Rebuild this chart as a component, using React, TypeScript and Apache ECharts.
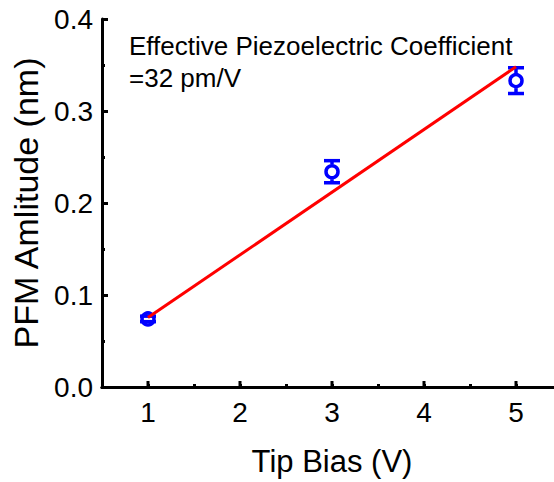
import React, { useEffect, useRef } from "react";
import * as echarts from "echarts";

const biasV = [1, 3, 5];
const amplitude = [0.074, 0.234, 0.333];
const amplitudeErr = [0.003, 0.012, 0.014];
const fitX = [1, 5];
const fitY = [0.0755, 0.348];
const xMajorTicks = [1, 2, 3, 4, 5];
const yTicks = ["0.0", "0.1", "0.2", "0.3", "0.4"];
const annotationLines = ["Effective Piezoelectric Coefficient", "=32 pm/V"];

const FONT = "'Liberation Sans', Arial, Helvetica, sans-serif";

export default function App() {
  const ref = useRef<HTMLDivElement>(null);
  useEffect(() => {
    if (!ref.current) return;
    const chart = echarts.init(ref.current, undefined, { renderer: "svg" });
    const points = biasV.map((x, i) => [x, amplitude[i], amplitudeErr[i]]);
    const fit = fitX.map((x, i) => [x, fitY[i]]);
    const axisLine = { show: true, lineStyle: { color: "#000", width: 3 } };
    chart.setOption({
      animation: false,
      grid: { left: 102, top: 19, bottom: 94, right: 0, containLabel: false },
      xAxis: [
        {
          type: "value",
          min: 0.5,
          max: 5.5,
          interval: 0.5,
          axisLine,
          axisTick: { show: true, inside: true, length: 3, lineStyle: { width: 3, color: "#000" } },
          minorTick: { show: false },
          splitLine: { show: false },
          axisLabel: {
            show: true,
            margin: 11,
            fontFamily: FONT,
            fontSize: 28,
            color: "#000",
            showMinLabel: false,
            showMaxLabel: false,
            formatter: (v: number) => (Math.abs(v - Math.round(v)) < 1e-6 ? String(Math.round(v)) : ""),
          },
          name: "Tip Bias (V)",
          nameLocation: "middle",
          nameGap: 59,
          nameTextStyle: { fontFamily: FONT, fontSize: 31, color: "#000" },
        },
        {
          type: "value",
          position: "top",
          min: 0.5,
          max: 5.5,
          axisLine,
          axisTick: { show: false },
          axisLabel: { show: false },
          splitLine: { show: false },
        },
      ],
      yAxis: [
        {
          type: "value",
          min: 0,
          max: 0.4,
          interval: 0.1,
          axisLine,
          axisTick: { show: true, inside: true, length: 6, lineStyle: { width: 3, color: "#000" } },
          minorTick: { show: true, splitNumber: 2, length: 3, lineStyle: { width: 3, color: "#000" } },
          splitLine: { show: false },
          axisLabel: {
            margin: 9,
            fontFamily: FONT,
            fontSize: 28,
            color: "#000",
            formatter: (v: number) => yTicks[Math.round(v * 10)] ?? "",
          },
          name: "PFM Amlitude (nm)",
          nameLocation: "middle",
          nameGap: 57,
          nameTextStyle: { fontFamily: FONT, fontSize: 34, color: "#000" },
        },
        {
          type: "value",
          position: "right",
          min: 0,
          max: 0.4,
          axisLine,
          axisTick: { show: false },
          axisLabel: { show: false },
          splitLine: { show: false },
        },
      ],
      graphic: [
        {
          type: "text",
          left: 129,
          top: 33,
          style: { text: annotationLines[0], font: `26px ${FONT}`, fill: "#000" },
        },
        {
          type: "text",
          left: 129,
          top: 65,
          style: { text: annotationLines[1], font: `26px ${FONT}`, fill: "#000" },
        },
      ],
      series: [
        {
          type: "custom",
          data: xMajorTicks.map((v) => [v, 0]),
          z: 5,
          silent: true,
          renderItem: (params: any, api: any) => {
            const p = api.coord([api.value(0), api.value(1)]);
            return {
              type: "line",
              shape: { x1: p[0], y1: p[1], x2: p[0], y2: p[1] - 6 },
              style: { stroke: "#000", lineWidth: 3 },
            };
          },
        },
        {
          type: "scatter",
          data: points.map((p) => [p[0], p[1]]),
          symbol: "circle",
          symbolSize: 12,
          itemStyle: { color: "#fff", borderColor: "#0000ff", borderWidth: 3.5, opacity: 1 },
          z: 2,
        },
        {
          type: "custom",
          data: points,
          z: 3,
          renderItem: (params: any, api: any) => {
            const x = api.value(0);
            const y = api.value(1);
            const e = api.value(2);
            const c = api.coord([x, y]);
            const t = api.coord([x, y + e]);
            const b = api.coord([x, y - e]);
            const hw = 8;
            const r = 7.5;
            const style = { stroke: "#0000ff", lineWidth: 3.5 };
            const children: any[] = [
              { type: "line", shape: { x1: c[0] - hw, y1: t[1], x2: c[0] + hw, y2: t[1] }, style },
              { type: "line", shape: { x1: c[0] - hw, y1: b[1], x2: c[0] + hw, y2: b[1] }, style },
            ];
            if (c[1] - t[1] > r) {
              children.push({ type: "line", shape: { x1: c[0], y1: t[1], x2: c[0], y2: c[1] - r }, style });
              children.push({ type: "line", shape: { x1: c[0], y1: c[1] + r, x2: c[0], y2: b[1] }, style });
            }
            return { type: "group", children };
          },
        },
        {
          type: "line",
          data: fit,
          showSymbol: false,
          symbol: "none",
          lineStyle: { color: "#ff0000", width: 3 },
          z: 4,
        },
      ],
    });
    return () => chart.dispose();
  }, []);
  return (
    <div style={{ position: "fixed", left: 0, top: 0, width: 554, height: 482, overflow: "hidden", background: "#fff" }}>
      <div ref={ref} style={{ width: 562, height: 482 }} />
    </div>
  );
}
